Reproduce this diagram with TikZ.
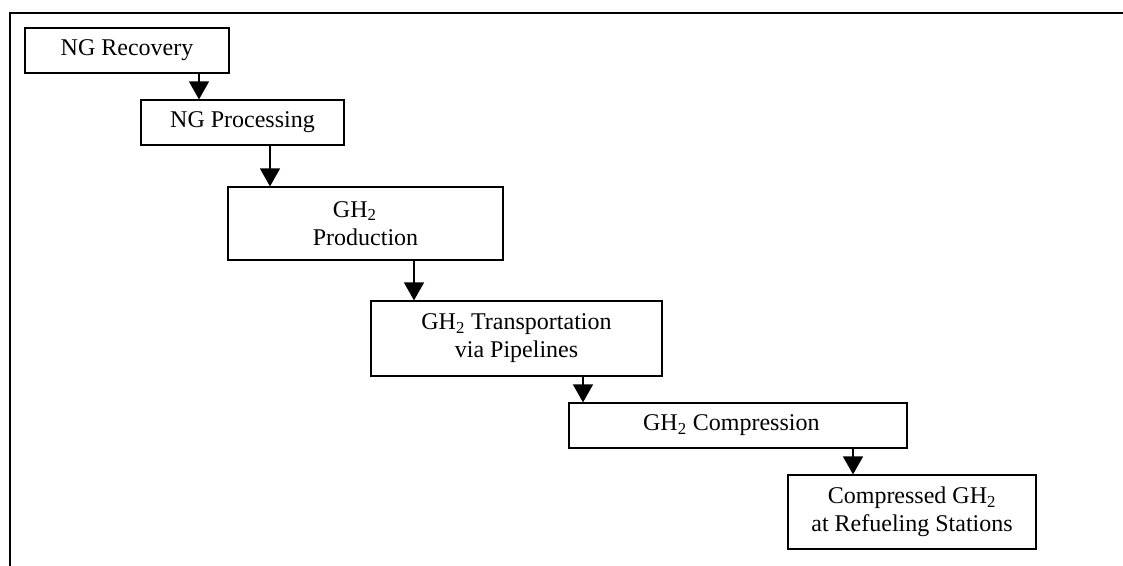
\documentclass[tikz,border=0pt]{standalone}
\usepackage{fontspec}
\setmainfont{Liberation Serif}
\usetikzlibrary{arrows.meta}
\begin{document}
\begin{tikzpicture}[x=0.75pt,y=-0.75pt,
  stagebox/.style={draw,line width=0.9pt,rectangle,inner sep=0pt,align=center,
    font=\fontsize{18}{21}\selectfont},
  arr/.style={line width=0.9pt,-{Triangle[length=13.5pt,width=15pt]}},
  frame/.style={line width=2pt}]
\useasboundingbox (0,0) rectangle (1123,565);
\draw[frame] (10,566) -- (10,13) -- (1124,13);
\node[stagebox,minimum width=153pt,minimum height=33.75pt] (n1) at (127,50.5) {NG Recovery};
\node[stagebox,minimum width=152.25pt,minimum height=33.75pt] (n2) at (242.5,122.5) {NG Processing};
\node[stagebox,minimum width=206.25pt,minimum height=54.75pt] (n3) at (365.5,223.5) {GH\textsubscript{2}\hspace*{16pt}\\Production};
\node[stagebox,minimum width=218.25pt,minimum height=56.25pt] (n4) at (516.5,338.5) {GH\textsubscript{2} Transportation\\via Pipelines};
\node[stagebox,minimum width=253.5pt,minimum height=33.75pt] (n5) at (738,425.5) {GH\textsubscript{2} Compression\hspace*{10pt}};
\node[stagebox,minimum width=186pt,minimum height=55.5pt] (n6) at (912,512) {Compressed GH\textsubscript{2}\\at Refueling Stations};
\draw[arr] (n1.south -| 199,0) -- (n2.north -| 199,0);
\draw[arr] (n2.south -| 270,0) -- (n3.north -| 270,0);
\draw[arr] (n3.south -| 414,0) -- (n4.north -| 414,0);
\draw[arr] (n4.south -| 583,0) -- (n5.north -| 583,0);
\draw[arr] (n5.south -| 853,0) -- (n6.north -| 853,0);
\end{tikzpicture}
\end{document}
